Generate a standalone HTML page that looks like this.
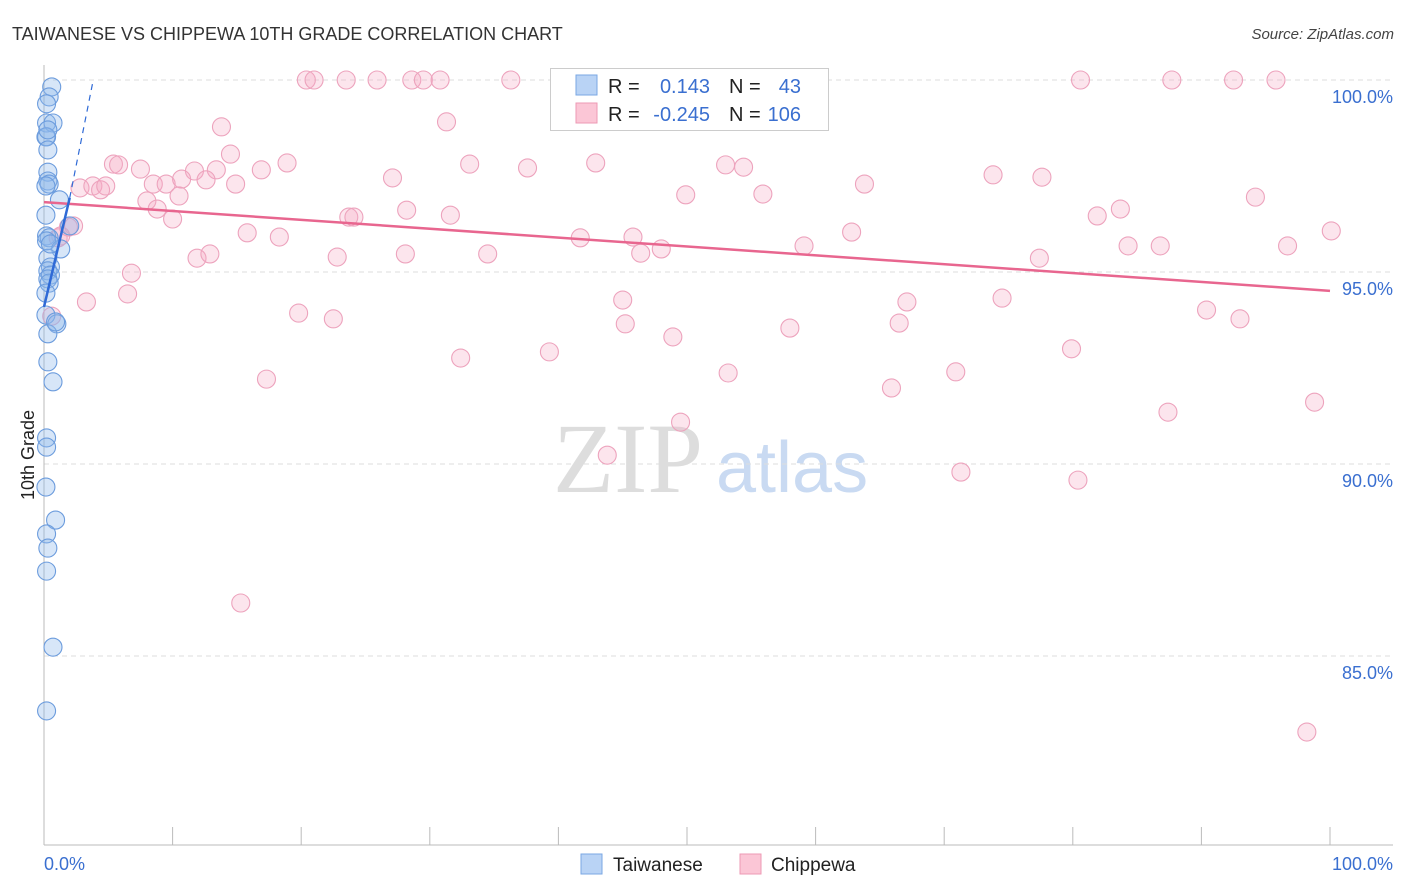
<!DOCTYPE html>
<html><head><meta charset="utf-8"><style>
body{margin:0;background:#fff;font-family:"Liberation Sans",sans-serif}
svg{display:block}
</style></head><body>
<svg id="chart" width="1406" height="892" xmlns="http://www.w3.org/2000/svg">
<text x="12" y="40" font-size="18" fill="#333">TAIWANESE VS CHIPPEWA 10TH GRADE CORRELATION CHART</text>
<text x="1394" y="39" font-size="15" font-style="italic" fill="#444" text-anchor="end">Source: ZipAtlas.com</text>
<g>
<text x="553" y="492" font-family="Liberation Serif,serif" font-size="100" fill="#ddd">ZIP</text>
<text x="716" y="492" font-size="72" fill="#c9daf2">atlas</text>
</g>
<g id="grid"></g>
<g id="axes"></g>
<g id="pts"></g>
<g id="lines"></g>
<text transform="translate(34,455) rotate(-90)" font-size="18" fill="#222" text-anchor="middle">10th Grade</text>
<g>
<rect x="550.5" y="68.5" width="278" height="62" fill="#fff" stroke="#ccc"/>
<rect x="576" y="75" width="21" height="20" fill="#b9d3f5" stroke="#7aa7e3"/>
<rect x="576" y="103" width="21" height="20" fill="#fbc6d6" stroke="#ee99b4"/>
<text x="608" y="93" font-size="20" fill="#222">R =</text>
<text x="710" y="93" font-size="20" fill="#3a6fd0" text-anchor="end">0.143</text>
<text x="729" y="93" font-size="20" fill="#222">N =</text>
<text x="801" y="93" font-size="20" fill="#3a6fd0" text-anchor="end">43</text>
<text x="608" y="121" font-size="20" fill="#222">R =</text>
<text x="710" y="121" font-size="20" fill="#3a6fd0" text-anchor="end">-0.245</text>
<text x="729" y="121" font-size="20" fill="#222">N =</text>
<text x="801" y="121" font-size="20" fill="#3a6fd0" text-anchor="end">106</text>
</g>
<g>
<rect x="581" y="854" width="21" height="20" fill="#b9d3f5" stroke="#7aa7e3"/>
<text x="613" y="871" font-size="19" fill="#222">Taiwanese</text>
<rect x="740" y="854" width="21" height="20" fill="#fbc6d6" stroke="#ee99b4"/>
<text x="771" y="871" font-size="19" fill="#222">Chippewa</text>
</g>
</svg>
<script>
const yTicks=[100,95,90,85];
const yTickLabels=["100.0%","95.0%","90.0%","85.0%"];
const xTicks=[0,10,20,30,40,50,60,70,80,90,100];
const taiX=[0.6,0.4,0.2,0.2,0.7,0.15,0.2,0.3,0.3,0.4,0.15,1.2,0.15,0.2,0.4,0.2,1.3,0.3,0.5,0.3,0.5,0.3,0.4,0.15,0.15,1.0,0.3,0.3,0.7,0.2,0.2,0.15,0.9,0.2,0.3,0.2,0.7,0.2,0.9,2.0,0.3,0.3,0.5];
const taiY=[99.82,99.56,99.38,98.88,98.88,98.52,98.52,97.60,97.37,97.29,97.24,96.88,96.48,95.94,95.89,95.81,95.60,95.36,95.13,95.03,94.92,94.82,94.71,94.45,93.88,93.65,93.39,92.66,92.14,90.68,90.44,89.40,88.54,88.18,87.81,87.21,85.23,83.57,93.70,96.20,98.70,98.18,95.73];
const chiX=[20.4,21.0,23.5,25.9,28.6,29.5,30.8,36.3,80.6,87.7,92.5,95.8,13.8,31.3,14.5,5.4,5.8,7.5,11.7,13.4,18.9,16.9,33.1,37.6,42.9,53.0,54.4,2.8,3.8,4.4,4.8,8.5,9.5,10.7,12.6,14.9,27.1,49.9,55.9,63.8,73.8,77.6,94.2,8.0,8.8,10.5,10.0,23.7,24.1,28.2,31.6,81.9,83.7,100.1,1.9,2.3,1.3,15.8,18.3,41.7,45.8,46.4,48.0,59.1,62.8,84.3,86.8,96.7,6.8,11.9,12.9,22.8,28.1,34.5,77.4,3.3,6.5,19.8,22.5,45.0,45.2,67.1,74.5,90.4,93.0,48.9,58.0,66.5,32.4,39.3,79.9,17.3,53.2,70.9,65.9,87.4,98.8,49.5,43.8,71.3,80.4,15.3,98.2,0.6,1.1];
const chiY=[100,100,100,100,100,100,100,100,100,100,100,100,98.78,98.91,98.07,97.81,97.79,97.68,97.63,97.66,97.84,97.66,97.81,97.71,97.84,97.79,97.73,97.19,97.24,97.14,97.24,97.29,97.29,97.42,97.40,97.29,97.45,97.01,97.03,97.29,97.53,97.47,96.95,96.85,96.64,96.98,96.38,96.43,96.43,96.61,96.48,96.46,96.64,96.07,96.17,96.20,95.94,96.02,95.91,95.89,95.91,95.49,95.60,95.68,96.04,95.68,95.68,95.68,94.97,95.36,95.47,95.39,95.47,95.47,95.36,94.22,94.43,93.93,93.78,94.27,93.65,94.22,94.32,94.01,93.78,93.31,93.54,93.67,92.76,92.92,93.00,92.21,92.37,92.40,91.98,91.35,91.61,91.09,90.23,89.79,89.58,86.38,83.02,93.85,95.89];
const chiTrend=[96.82,94.51];
const taiTrend=[94.09,1.42];
const X0=44,X1=1330,Y100=80,PXY=38.4;
const xs=v=>X0+v*(X1-X0)/100;
const ys=v=>Y100+(100-v)*PXY;
const NS="http://www.w3.org/2000/svg";
function mk(tag,attrs,parent){const e=document.createElementNS(NS,tag);for(const k in attrs)e.setAttribute(k,attrs[k]);document.getElementById(parent).appendChild(e);return e;}
yTicks.forEach((t,i)=>{
 const g=mk('line',{x1:44,x2:1393,y1:ys(t),y2:ys(t),stroke:'#ddd','stroke-dasharray':'5,4'},'grid');
 
 
 const l=mk('text',{x:1393,y:ys(t)+23,'font-size':18,fill:'#3a6fd0','text-anchor':'end'},'axes');
 l.textContent=yTickLabels[i];
 
 
});
let a=mk('line',{x1:44,x2:44,y1:65,y2:845,stroke:'#bbb'},'axes');


a=mk('line',{x1:44,x2:1393,y1:845,y2:845,stroke:'#bbb'},'axes');


xTicks.forEach(t=>{
 const k=mk('line',{x1:xs(t),x2:xs(t),y1:827,y2:845,stroke:'#bbb'},'axes');
 
 
});
let lt=mk('text',{x:44,y:870,'font-size':18,fill:'#3a6fd0'},'axes');lt.textContent='0.0%';


lt=mk('text',{x:1393,y:870,'font-size':18,fill:'#3a6fd0','text-anchor':'end'},'axes');lt.textContent='100.0%';


chiX.forEach((x,i)=>{
 const c=mk('circle',{cx:xs(x),cy:ys(chiY[i]),r:9,fill:'rgba(246,170,196,0.3)',stroke:'#eda3bd','stroke-width':1.1},'pts');
 
 
});
taiX.forEach((x,i)=>{
 const c=mk('circle',{cx:xs(x),cy:ys(taiY[i]),r:9,fill:'rgba(140,182,236,0.35)',stroke:'#6c9cdd','stroke-width':1.1},'pts');
 
 
});
let tl=mk('line',{x1:xs(0),y1:ys(chiTrend[0]),x2:xs(100),y2:ys(chiTrend[1]),stroke:'#e8668f','stroke-width':2.5},'lines');


const xEnd=(100-taiTrend[0])/taiTrend[1];
tl=mk('line',{x1:xs(0),y1:ys(taiTrend[0]),x2:xs(2),y2:ys(taiTrend[0]+2*taiTrend[1]),stroke:'#2f6ad6','stroke-width':2.5},'lines');


tl=mk('line',{x1:xs(2),y1:ys(taiTrend[0]+2*taiTrend[1]),x2:xs(xEnd*0.92),y2:ys(100),stroke:'#2f6ad6','stroke-width':1.2,'stroke-dasharray':'6,5'},'lines');


</script>
</body></html>
